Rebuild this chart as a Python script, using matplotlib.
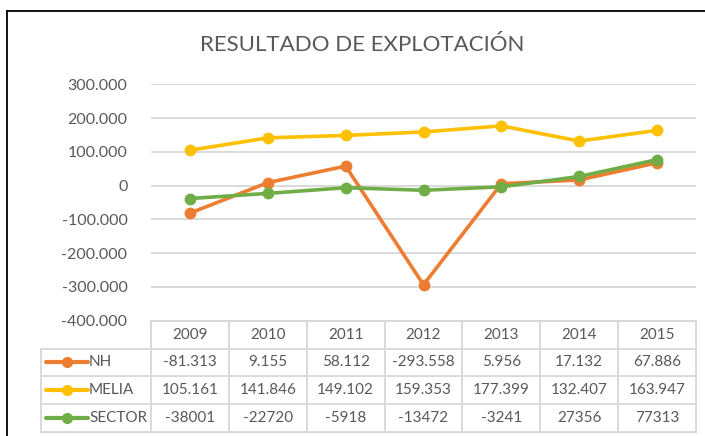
import matplotlib

matplotlib.use("Agg")
import matplotlib.pyplot as plt  # noqa: E402
import numpy as np  # noqa: E402
from matplotlib.lines import Line2D  # noqa: E402

plt.rcParams["font.family"] = ["Lato", "DejaVu Sans"]

years = ["2009", "2010", "2011", "2012", "2013", "2014", "2015"]
nh = [-81313, 9155, 58112, -293558, 5956, 17132, 67886]
melia = [105161, 141846, 149102, 159353, 177399, 132407, 163947]
sector = [-38001, -22720, -5918, -13472, -3241, 27356, 77313]
series_names = ["NH", "MELIA", "SECTOR"]
y_ticks = [-400000, -300000, -200000, -100000, 0, 100000, 200000, 300000]

colors = {"NH": "#ED7D31", "MELIA": "#FFC000", "SECTOR": "#70AD47"}
TEXT = "#595959"
GRID = "#D9D9D9"

W, H = 705, 436


def box(x0, y0, x1, y1):
    """Pixel box (top-left origin) -> figure fraction rect."""
    return [x0 / W, 1 - y1 / H, (x1 - x0) / W, (y1 - y0) / H]


def dots(v):
    return f"{v:,.0f}".replace(",", ".")


fig = plt.figure(figsize=(W / 100, H / 100), dpi=100)

# outer frame (left + top edges visible in the screenshot)
fig.add_artist(Line2D([7 / W, 7 / W], [0, 1 - 11 / H], transform=fig.transFigure,
                      color="black", lw=1.3))
fig.add_artist(Line2D([7 / W, 1], [1 - 11 / H, 1 - 11 / H], transform=fig.transFigure,
                      color="black", lw=1.3))

fig.text(362 / W, 1 - 45 / H, "RESULTADO DE EXPLOTACIÓN", ha="center", va="center",
         fontsize=16, color=TEXT)

# line chart
ax = fig.add_axes(box(151, 84.5, 696, 320.7))
x = np.arange(len(years))
data = {"NH": nh, "MELIA": melia, "SECTOR": sector}
for name in series_names:
    ax.plot(x, data[name], color=colors[name], lw=2.6, marker="o", ms=7.5,
            solid_capstyle="round", clip_on=False, zorder=3)
ax.set_xlim(-0.5, len(years) - 0.5)
ax.set_ylim(y_ticks[0], y_ticks[-1])
ax.set_yticks(y_ticks)
ax.set_yticklabels([dots(v) for v in y_ticks])
ax.set_xticks([])
ax.tick_params(axis="y", length=0, pad=17, labelcolor=TEXT, labelsize=11.5)
ax.grid(axis="y", color=GRID, lw=1.4)
ax.set_axisbelow(True)
for sp in ax.spines.values():
    sp.set_visible(False)

# data table below the chart
tax = fig.add_axes(box(41, 320.7, 696, 432))
col_w = (696 - 151) / len(years)
left = -0.5 - (151 - 41) / col_w
tax.set_xlim(left, len(years) - 0.5)
tax.set_ylim(4, 0)
tax.axis("off")
line_kw = dict(color=GRID, lw=1.4, clip_on=False)
tax.plot([-0.5, len(years) - 0.5], [0, 0], **line_kw)
for r in range(1, 5):
    tax.plot([left, len(years) - 0.5], [r, r], **line_kw)
for k in range(len(years) + 1):
    tax.plot([k - 0.5, k - 0.5], [0, 4], **line_kw)
tax.plot([left, left], [1, 4], **line_kw)

for i, yr in enumerate(years):
    tax.text(i, 0.5, yr, ha="center", va="center", fontsize=11, color=TEXT)
for r, name in enumerate(series_names):
    yrow = r + 1.5
    fmt = str if name == "SECTOR" else dots
    for i, v in enumerate(data[name]):
        tax.text(i, yrow, fmt(v), ha="center", va="center", fontsize=11, color=TEXT)
    lx0 = left + 5 / col_w
    lx1 = left + 47 / col_w
    tax.plot([lx0, lx1], [yrow, yrow], color=colors[name], lw=3, solid_capstyle="round")
    tax.plot([(lx0 + lx1) / 2], [yrow], "o", color=colors[name], ms=7)
    tax.text(left + 48 / col_w, yrow, name, ha="left", va="center", fontsize=11, color=TEXT)

fig.savefig("out.png", dpi=100)
